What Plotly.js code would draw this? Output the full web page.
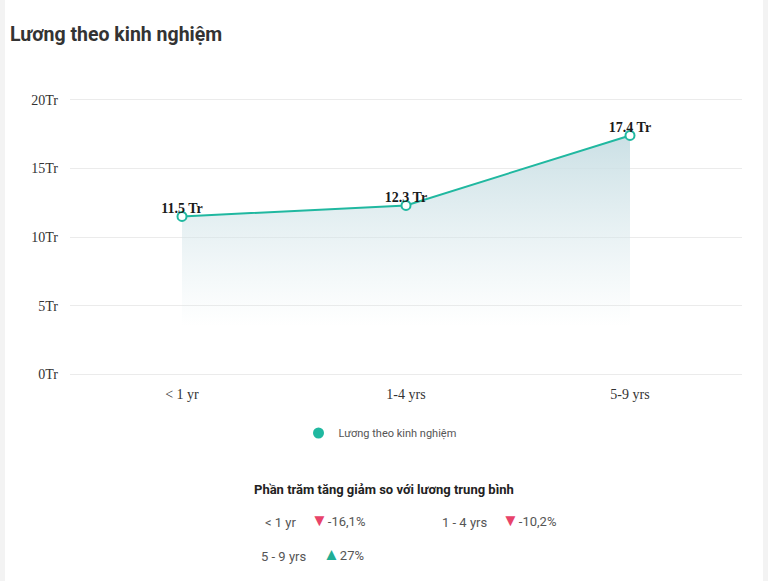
<!DOCTYPE html>
<html>
<head>
<meta charset="utf-8">
<script src="https://cdn.plot.ly/plotly-3.0.1.min.js"></script>
<style>
html,body{margin:0;padding:0;background:#f3f3f3;}
#chart{position:absolute;left:5px;top:0;width:758px;height:581px;background:#fff;}
</style>
</head>
<body>
<div id="chart"></div>
<script>
// ---- data ----
var categories = ['< 1 yr', '1-4 yrs', '5-9 yrs'];
var salaries = [11.5, 12.3, 17.4];
var yTicks = [0, 5, 10, 15, 20];
var seriesName = 'Lương theo kinh nghiệm';
var pctLabels = ['< 1 yr', '1 - 4 yrs', '5 - 9 yrs'];
var pctValues = [-16.1, -10.2, 27];

var teal = '#20b8a0';
var W = 758, H = 581, L = 65, R = 21, T = 97, B = 204;
function px(X){ return (X - 5 - L) / (W - L - R); }
function py(Y){ return (H - B - Y) / (H - T - B); }

function fmtPct(v){
  var s = (Math.round(v*10)/10).toString().replace('.', ',');
  return s + '%';
}

var main = {
  type: 'scatter',
  x: categories,
  y: salaries,
  mode: 'lines+markers',
  line: {color: teal, width: 2},
  marker: {size: 9, color: '#fff', line: {color: teal, width: 2}},
  fill: 'tozeroy',
  fillgradient: {
    type: 'vertical',
    start: 3.5,
    stop: 17.4,
    colorscale: [[0, 'rgba(214,231,235,0)'], [1, 'rgba(203,224,229,1)']]
  },
  showlegend: false,
  hoverinfo: 'skip',
  cliponaxis: false
};

var labels = {
  type: 'scatter',
  x: categories,
  y: salaries,
  mode: 'text',
  text: salaries.map(function(v){ return v.toFixed(1) + ' Tr'; }),
  textposition: 'top center',
  textfont: {family: 'Liberation Serif', size: 14, color: '#1a1a1a', weight: 'bold'},
  showlegend: false,
  hoverinfo: 'skip',
  cliponaxis: false
};

var legendDummy = {
  type: 'scatter',
  x: [null], y: [null],
  mode: 'markers',
  name: seriesName,
  marker: {size: 11, color: teal},
  showlegend: true
};

var annotations = [];
annotations.push({
  xref: 'paper', yref: 'paper', x: px(384), y: py(489),
  xanchor: 'center', yanchor: 'middle', showarrow: false,
  text: '<b>Phần trăm tăng giảm so với lương trung bình</b>',
  font: {family: 'Roboto', size: 13, color: '#222'}
});
var rowPos = [
  {lx: 263, vx: 309, y: 522},
  {lx: 440, vx: 500, y: 522},
  {lx: 259, vx: 321, y: 556}
];
for (var i = 0; i < pctLabels.length; i++) {
  var p = rowPos[i];
  annotations.push({
    xref: 'paper', yref: 'paper', x: px(p.lx), y: py(p.y),
    xanchor: 'left', yanchor: 'middle', showarrow: false,
    text: pctLabels[i],
    font: {family: 'Roboto', size: 13, color: '#555'}
  });
  var up = pctValues[i] >= 0;
  annotations.push({
    xref: 'paper', yref: 'paper', x: px(p.vx), y: py(p.y),
    xanchor: 'left', yanchor: 'middle', showarrow: false, yshift: 2,
    text: '<span style="color:' + (up ? '#1fae95' : '#e8436a') + ';font-size:17px">' + (up ? '▲' : '▼') + '</span>' + fmtPct(pctValues[i]),
    font: {family: 'Roboto', size: 13, color: '#555'}
  });
}

var layout = {
  width: W, height: H,
  margin: {l: L, r: R, t: T, b: B},
  paper_bgcolor: '#fff',
  plot_bgcolor: '#fff',
  title: {
    text: '<b>Lương theo kinh nghiệm</b>',
    font: {family: 'Roboto', size: 19.5, color: '#333'},
    xref: 'container', yref: 'container',
    x: 5 / W, xanchor: 'left',
    y: 1 - 34 / H, yanchor: 'middle'
  },
  xaxis: {
    type: 'category',
    range: [-0.5, 2.5],
    showgrid: false, zeroline: false, showline: false,
    ticks: '',
    tickfont: {family: 'Liberation Serif', size: 14, color: '#333'},
    ticklabelstandoff: 7,
    fixedrange: true
  },
  yaxis: {
    range: [-0.2, 20.2],
    tickvals: yTicks,
    ticktext: yTicks.map(function(v){ return v + 'Tr'; }),
    showgrid: true, gridcolor: '#ebebeb', gridwidth: 1,
    zeroline: false, showline: false, ticks: '',
    tickfont: {family: 'Liberation Serif', size: 14, color: '#333'},
    ticklabelstandoff: 11,
    fixedrange: true
  },
  showlegend: true,
  legend: {
    orientation: 'h',
    x: px(380), xanchor: 'center',
    y: py(433), yanchor: 'middle',
    font: {family: 'Roboto', size: 11, color: '#555'},
    itemwidth: 30
  },
  annotations: annotations
};

Plotly.newPlot('chart', [main, labels, legendDummy], layout, {displayModeBar: false, staticPlot: true});
</script>
</body>
</html>
